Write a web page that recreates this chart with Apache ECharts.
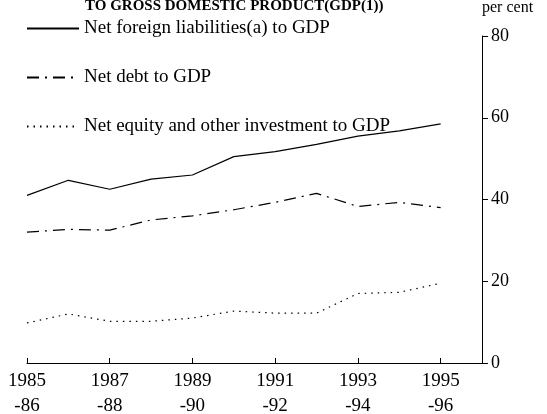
<!DOCTYPE html>
<html>
<head>
<meta charset="utf-8">
<script src="https://cdn.jsdelivr.net/npm/echarts@6/dist/echarts.min.js"></script>
<style>
html, body { margin: 0; padding: 0; background: #fff; }
#chart { width: 547px; height: 414px; }
</style>
</head>
<body>
<div id="chart"></div>
<script>
// financial years on the category axis (last one only pads the axis out to the y-axis)
const years = ['1985\n-86', '1986\n-87', '1987\n-88', '1988\n-89', '1989\n-90', '1990\n-91',
               '1991\n-92', '1992\n-93', '1993\n-94', '1994\n-95', '1995\n-96', '1996\n-97'];

// per cent of GDP
const netForeignLiabilities = [41, 44.7, 42.5, 45, 46, 50.5, 51.7, 53.5, 55.5, 56.8, 58.5];
const netDebt = [32, 32.7, 32.5, 35, 36, 37.5, 39.3, 41.5, 38.3, 39.3, 38];
const netEquity = [9.8, 12, 10.2, 10.2, 11, 12.7, 12.2, 12.2, 17, 17.3, 19.5];

const yTicks = [0, 20, 40, 60, 80];

const serif = 'Liberation Serif';

const chart = echarts.init(document.getElementById('chart'));

const option = {
    animation: false,
    title: {
        text: 'TO GROSS DOMESTIC PRODUCT(GDP(1))',
        left: 85,
        top: -1,
        padding: 0,
        textStyle: { fontFamily: serif, fontSize: 15, fontWeight: 'bold', color: '#000' }
    },
    legend: {
        orient: 'vertical',
        left: 26,
        top: 19,
        padding: 0,
        itemWidth: 52,
        itemHeight: 14,
        itemGap: 30,
        itemStyle: { opacity: 0, borderWidth: 0 },
        textStyle: { fontFamily: serif, fontSize: 19, color: '#000' },
        data: ['Net foreign liabilities(a) to GDP', 'Net debt to GDP', 'Net equity and other investment to GDP']
    },
    grid: { left: 27, right: 65, top: 36, bottom: 51, outerBoundsMode: 'none', containLabel: false },
    xAxis: {
        type: 'category',
        data: years,
        boundaryGap: false,
        axisLine: { lineStyle: { color: '#000', width: 1 } },
        axisTick: { inside: true, length: 5, interval: 1, lineStyle: { color: '#000' } },
        axisLabel: {
            interval: 1,
            margin: 6,
            lineHeight: 25,
            fontFamily: serif,
            fontSize: 19,
            color: '#000'
        }
    },
    yAxis: {
        type: 'value',
        position: 'right',
        min: 0,
        max: 80,
        interval: 20,
        name: 'per cent',
        nameGap: 20,
        nameTextStyle: { fontFamily: serif, fontSize: 16, color: '#000', align: 'left' },
        splitLine: { show: false },
        axisLine: { show: true, lineStyle: { color: '#000', width: 1 } },
        axisTick: { show: true, length: 6, lineStyle: { color: '#000' } },
        axisLabel: {
            margin: 9,
            fontFamily: serif,
            fontSize: 18,
            color: '#000',
            formatter: v => yTicks.includes(v) ? String(v) : ''
        }
    },
    series: [
        {
            name: 'Net foreign liabilities(a) to GDP',
            type: 'line',
            data: netForeignLiabilities,
            symbol: 'none',
            lineStyle: { color: '#000', width: 1.2, type: 'solid' },
            itemStyle: { color: '#000' }
        },
        {
            name: 'Net debt to GDP',
            type: 'line',
            data: netDebt,
            symbol: 'none',
            lineStyle: { color: '#000', width: 1.2, type: [12, 6, 2, 6] },
            itemStyle: { color: '#000' }
        },
        {
            name: 'Net equity and other investment to GDP',
            type: 'line',
            data: netEquity,
            symbol: 'none',
            lineStyle: { color: '#000', width: 1.2, type: [1.5, 5] },
            itemStyle: { color: '#000' }
        }
    ]
};

chart.setOption(option);
</script>
</body>
</html>
